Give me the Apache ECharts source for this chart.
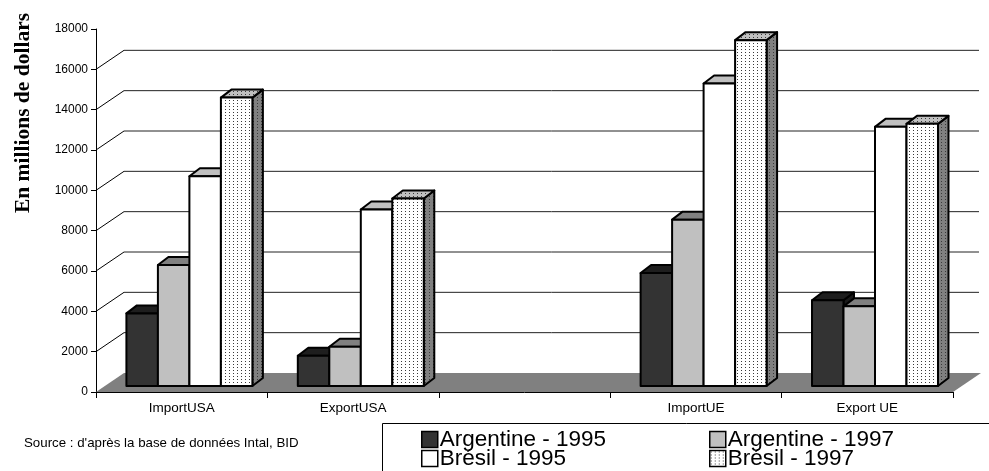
<!DOCTYPE html>
<html>
<head>
<meta charset="utf-8">
<script src="https://cdn.jsdelivr.net/npm/echarts@6/dist/echarts.min.js"></script>
<style>
  html, body { margin: 0; padding: 0; background: #fff; }
  #chart { width: 989px; height: 471px; }
</style>
</head>
<body>
<div id="chart"></div>
<script>
// Flux commerciaux (millions de dollars)
const categories = ['ImportUSA', 'ExportUSA', '', 'ImportUE', 'Export UE'];
const argentine1995 = [3600, 1500, null, 5600, 4250];
const argentine1997 = [6000, 1950, null, 8250, 3950];
const bresil1995 = [10400, 8750, null, 15000, 12850];
const bresil1997 = [14300, 9300, null, 17150, 13000];
const seriesNames = ['Argentine - 1995', 'Argentine - 1997', 'Brésil - 1995', 'Brésil - 1997'];
const yTicks = [2000, 4000, 6000, 8000, 10000, 12000, 14000, 16000];

const SANS = '"Liberation Sans", Arial, sans-serif';
const SERIF = '"Liberation Serif", "Times New Roman", serif';

// Depth of the floor / back wall and of the columns (pseudo-3D)
const WALL = [28, -19];
const FRONT = [7.7, -6];
const DEPTH = [10.5, -8];
const GROUP_FRACTION = 0.735;

function dots(bg) {
  const c = document.createElement('canvas');
  c.width = 4; c.height = 3;
  const g = c.getContext('2d');
  g.fillStyle = bg; g.fillRect(0, 0, 4, 3);
  g.fillStyle = '#3a3a3a';
  g.fillRect(1, 1, 1, 1);
  return { image: c, repeat: 'repeat' };
}

const styles = [
  { front: '#333333', top: '#1e1e1e', side: '#1a1a1a' },
  { front: '#c0c0c0', top: '#808080', side: '#808080' },
  { front: '#ffffff', top: '#c0c0c0', side: '#c0c0c0' },
  { front: dots('#ffffff'), top: dots('#c0c0c0'), side: dots('#808080') }
];
const values = [argentine1995, argentine1997, bresil1995, bresil1997];

function barSeries(k) {
  const data = [];
  values[k].forEach((v, i) => { if (v != null) data.push([i, v]); });
  const st = styles[k];
  return {
    name: seriesNames[k],
    type: 'custom',
    z: 3,
    itemStyle: { color: st.front, borderColor: '#000', borderWidth: 1.5 },
    encode: { x: 0, y: 1 },
    data: data,
    renderItem: function (params, api) {
      const cat = api.value(0), val = api.value(1);
      const base = api.coord([cat, 0]);
      const top = api.coord([cat, val]);
      const slot = api.size([1, 0])[0];
      const bw = slot * GROUP_FRACTION / 4;
      const x0 = base[0] - 2 * bw + k * bw + FRONT[0];
      const x1 = x0 + bw;
      const yb = base[1] + FRONT[1];
      const yt = top[1] + FRONT[1];
      const line = { stroke: '#000', lineWidth: 2, lineJoin: 'round' };
      return {
        type: 'group',
        children: [
          { type: 'polygon', shape: { points: [[x1, yt], [x1 + DEPTH[0], yt + DEPTH[1]], [x1 + DEPTH[0], yb + DEPTH[1]], [x1, yb]] },
            style: Object.assign({ fill: st.side }, line) },
          { type: 'polygon', shape: { points: [[x0, yt], [x1, yt], [x1 + DEPTH[0], yt + DEPTH[1]], [x0 + DEPTH[0], yt + DEPTH[1]]] },
            style: Object.assign({ fill: st.top }, line) },
          { type: 'rect', shape: { x: x0, y: yt, width: bw, height: yb - yt },
            style: Object.assign({ fill: st.front }, line) }
        ]
      };
    }
  };
}

// Floor, back-wall gridlines and their connectors to the value axis
const wallSeries = {
  type: 'custom',
  silent: true,
  z: 1,
  data: [[0, 0]],
  encode: { x: 0, y: 1 },
  renderItem: function (params, api) {
    const cs = params.coordSys;
    const left = cs.x, right = cs.x + cs.width;
    const y0 = api.coord([0, 0])[1];
    const children = [{
      type: 'polygon',
      shape: { points: [[left, y0], [right, y0], [right + WALL[0], y0 + WALL[1]], [left + WALL[0], y0 + WALL[1]]] },
      style: { fill: '#808080', stroke: null }
    }];
    yTicks.forEach(v => {
      const y = api.coord([0, v])[1];
      children.push({ type: 'line', shape: { x1: left, y1: y, x2: left + WALL[0], y2: y + WALL[1] },
        style: { stroke: '#000', lineWidth: 1 } });
      children.push({ type: 'line', shape: { x1: left + WALL[0], y1: y + WALL[1], x2: right + WALL[0] - 2, y2: y + WALL[1] },
        style: { stroke: '#222', lineWidth: 1 } });
    });
    return { type: 'group', children: children };
  }
};

function legendItem(name, left, top) {
  return {
    data: [name], orient: 'horizontal', left: left, top: top, padding: 0,
    itemWidth: 16, itemHeight: 16, icon: 'rect',
    itemStyle: { borderColor: '#000', borderWidth: 1.5 },
    textStyle: { fontSize: 22.5, fontFamily: SANS, color: '#000', padding: [0, 0, 0, -3] }
  };
}

const chart = echarts.init(document.getElementById('chart'), null, { renderer: 'canvas' });
chart.setOption({
  animation: false,
  backgroundColor: '#fff',
  textStyle: { fontFamily: SANS, color: '#000' },
  grid: { left: 96, right: 36, top: 29, bottom: 79 },
  xAxis: {
    type: 'category',
    data: categories,
    axisLine: { lineStyle: { color: '#000', width: 1 } },
    axisTick: { show: true, interval: 0, length: 6, lineStyle: { color: '#000' } },
    axisLabel: { interval: 0, fontSize: 13.5, color: '#000', fontFamily: SANS, margin: 9 }
  },
  yAxis: {
    type: 'value',
    min: 0, max: 18000, interval: 2000,
    axisLine: { show: true, lineStyle: { color: '#000', width: 1 } },
    axisTick: { show: true, length: 5, lineStyle: { color: '#000' } },
    axisLabel: { fontSize: 12, color: '#000', fontFamily: SANS, margin: 8, formatter: v => String(v) },
    splitLine: { show: false }
  },
  legend: [
    legendItem(seriesNames[0], 421, 428),
    legendItem(seriesNames[1], 709, 428),
    legendItem(seriesNames[2], 421, 447),
    legendItem(seriesNames[3], 709, 447)
  ],
  graphic: [
    { type: 'rect', z: 0, shape: { x: 382.5, y: 423.5, width: 700, height: 100 },
      style: { fill: '#fff', stroke: '#000', lineWidth: 1 } },
    { type: 'text', x: 24, y: 443, z: 5,
      style: { text: "Source : d'après la base de données Intal, BID", font: '13.3px ' + SANS, fill: '#000', verticalAlign: 'middle' } },
    { type: 'text', x: 23, y: 113, rotation: Math.PI / 2, z: 5,
      style: { text: 'En millions de dollars', font: 'bold 21.5px ' + SERIF, fill: '#000', align: 'center', verticalAlign: 'middle' } }
  ],
  series: [wallSeries, barSeries(0), barSeries(1), barSeries(2), barSeries(3)]
});
</script>
</body>
</html>
